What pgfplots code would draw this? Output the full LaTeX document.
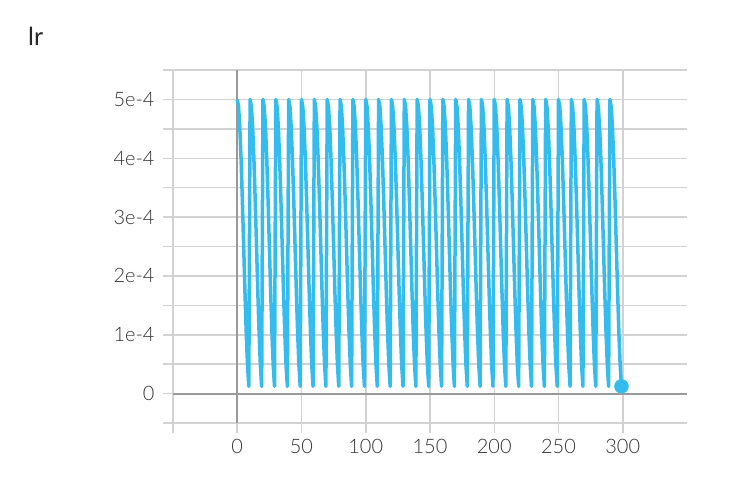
\documentclass[border=0pt]{standalone}
\usepackage{pgfplots}
\pgfplotsset{compat=1.18}
\usepackage{fontspec}
\setmainfont{Lato Light}
\newfontfamily\titlefont{Lato}
\definecolor{lrblue}{HTML}{35BCEE}
\definecolor{gridc}{HTML}{D2D2D2}
\definecolor{zeroc}{HTML}{9A9A9A}
\definecolor{labc}{HTML}{333333}
\begin{document}
\begin{tikzpicture}
\path[use as bounding box] (-173bp,-55bp) rectangle (569bp,423bp);
\node[anchor=base west,inner sep=0pt,font=\titlefont\fontsize{25}{28}\selectfont,text=black!85] at (-145bp,377bp) {lr};
\begin{axis}[
  at={(0,0)}, anchor=south west, scale only axis,
  width=514bp, height=353bp,
  xmin=-50, xmax=350, ymin=-0.5e-4, ymax=5.5e-4,
  axis line style={draw=none},
  scaled y ticks=false, scaled x ticks=false,
  xtick={-50,0,50,100,150,200,250,300},
  xticklabels={{},0,50,100,150,200,250,300},
  ytick={-0.5e-4,0,0.5e-4,1e-4,1.5e-4,2e-4,2.5e-4,3e-4,3.5e-4,4e-4,4.5e-4,5e-4,5.5e-4},
  yticklabels={{},0,{},1e-4,{},2e-4,{},3e-4,{},4e-4,{},5e-4,{}},
  grid=major,
  major grid style={gridc, line width=1.5bp},
  tick style={gridc, line width=1.5bp},
  major tick length=10bp, tick align=outside, tick pos=left,
  ticklabel style={font=\fontsize{20}{22}\selectfont, text=labc},
  xticklabel style={yshift=-3bp},
  yticklabel style={xshift=-5bp},
]
\draw[gridc, line width=2.5bp] (axis cs:-50,-0.5e-4) -- (axis cs:-50,5.5e-4);
\draw[zeroc, line width=2bp] (axis cs:0,-0.5e-4) -- (axis cs:0,5.5e-4);
\draw[zeroc, line width=2bp] (axis cs:-50,0) -- (axis cs:350,0);
\addplot[lrblue, line width=3.5bp, line join=round, mark=none] coordinates {
(0,5e-4)(1,4.8776e-4)(2,4.5225e-4)(3,3.9695e-4)(4,3.2725e-4)(5,2.5e-4)(6,1.7275e-4)(7,1.0305e-4)(8,4.775e-5)(9,1.224e-5)
(10,5e-4)(11,4.8776e-4)(12,4.5225e-4)(13,3.9695e-4)(14,3.2725e-4)(15,2.5e-4)(16,1.7275e-4)(17,1.0305e-4)(18,4.775e-5)(19,1.224e-5)
(20,5e-4)(21,4.8776e-4)(22,4.5225e-4)(23,3.9695e-4)(24,3.2725e-4)(25,2.5e-4)(26,1.7275e-4)(27,1.0305e-4)(28,4.775e-5)(29,1.224e-5)
(30,5e-4)(31,4.8776e-4)(32,4.5225e-4)(33,3.9695e-4)(34,3.2725e-4)(35,2.5e-4)(36,1.7275e-4)(37,1.0305e-4)(38,4.775e-5)(39,1.224e-5)
(40,5e-4)(41,4.8776e-4)(42,4.5225e-4)(43,3.9695e-4)(44,3.2725e-4)(45,2.5e-4)(46,1.7275e-4)(47,1.0305e-4)(48,4.775e-5)(49,1.224e-5)
(50,5e-4)(51,4.8776e-4)(52,4.5225e-4)(53,3.9695e-4)(54,3.2725e-4)(55,2.5e-4)(56,1.7275e-4)(57,1.0305e-4)(58,4.775e-5)(59,1.224e-5)
(60,5e-4)(61,4.8776e-4)(62,4.5225e-4)(63,3.9695e-4)(64,3.2725e-4)(65,2.5e-4)(66,1.7275e-4)(67,1.0305e-4)(68,4.775e-5)(69,1.224e-5)
(70,5e-4)(71,4.8776e-4)(72,4.5225e-4)(73,3.9695e-4)(74,3.2725e-4)(75,2.5e-4)(76,1.7275e-4)(77,1.0305e-4)(78,4.775e-5)(79,1.224e-5)
(80,5e-4)(81,4.8776e-4)(82,4.5225e-4)(83,3.9695e-4)(84,3.2725e-4)(85,2.5e-4)(86,1.7275e-4)(87,1.0305e-4)(88,4.775e-5)(89,1.224e-5)
(90,5e-4)(91,4.8776e-4)(92,4.5225e-4)(93,3.9695e-4)(94,3.2725e-4)(95,2.5e-4)(96,1.7275e-4)(97,1.0305e-4)(98,4.775e-5)(99,1.224e-5)
(100,5e-4)(101,4.8776e-4)(102,4.5225e-4)(103,3.9695e-4)(104,3.2725e-4)(105,2.5e-4)(106,1.7275e-4)(107,1.0305e-4)(108,4.775e-5)(109,1.224e-5)
(110,5e-4)(111,4.8776e-4)(112,4.5225e-4)(113,3.9695e-4)(114,3.2725e-4)(115,2.5e-4)(116,1.7275e-4)(117,1.0305e-4)(118,4.775e-5)(119,1.224e-5)
(120,5e-4)(121,4.8776e-4)(122,4.5225e-4)(123,3.9695e-4)(124,3.2725e-4)(125,2.5e-4)(126,1.7275e-4)(127,1.0305e-4)(128,4.775e-5)(129,1.224e-5)
(130,5e-4)(131,4.8776e-4)(132,4.5225e-4)(133,3.9695e-4)(134,3.2725e-4)(135,2.5e-4)(136,1.7275e-4)(137,1.0305e-4)(138,4.775e-5)(139,1.224e-5)
(140,5e-4)(141,4.8776e-4)(142,4.5225e-4)(143,3.9695e-4)(144,3.2725e-4)(145,2.5e-4)(146,1.7275e-4)(147,1.0305e-4)(148,4.775e-5)(149,1.224e-5)
(150,5e-4)(151,4.8776e-4)(152,4.5225e-4)(153,3.9695e-4)(154,3.2725e-4)(155,2.5e-4)(156,1.7275e-4)(157,1.0305e-4)(158,4.775e-5)(159,1.224e-5)
(160,5e-4)(161,4.8776e-4)(162,4.5225e-4)(163,3.9695e-4)(164,3.2725e-4)(165,2.5e-4)(166,1.7275e-4)(167,1.0305e-4)(168,4.775e-5)(169,1.224e-5)
(170,5e-4)(171,4.8776e-4)(172,4.5225e-4)(173,3.9695e-4)(174,3.2725e-4)(175,2.5e-4)(176,1.7275e-4)(177,1.0305e-4)(178,4.775e-5)(179,1.224e-5)
(180,5e-4)(181,4.8776e-4)(182,4.5225e-4)(183,3.9695e-4)(184,3.2725e-4)(185,2.5e-4)(186,1.7275e-4)(187,1.0305e-4)(188,4.775e-5)(189,1.224e-5)
(190,5e-4)(191,4.8776e-4)(192,4.5225e-4)(193,3.9695e-4)(194,3.2725e-4)(195,2.5e-4)(196,1.7275e-4)(197,1.0305e-4)(198,4.775e-5)(199,1.224e-5)
(200,5e-4)(201,4.8776e-4)(202,4.5225e-4)(203,3.9695e-4)(204,3.2725e-4)(205,2.5e-4)(206,1.7275e-4)(207,1.0305e-4)(208,4.775e-5)(209,1.224e-5)
(210,5e-4)(211,4.8776e-4)(212,4.5225e-4)(213,3.9695e-4)(214,3.2725e-4)(215,2.5e-4)(216,1.7275e-4)(217,1.0305e-4)(218,4.775e-5)(219,1.224e-5)
(220,5e-4)(221,4.8776e-4)(222,4.5225e-4)(223,3.9695e-4)(224,3.2725e-4)(225,2.5e-4)(226,1.7275e-4)(227,1.0305e-4)(228,4.775e-5)(229,1.224e-5)
(230,5e-4)(231,4.8776e-4)(232,4.5225e-4)(233,3.9695e-4)(234,3.2725e-4)(235,2.5e-4)(236,1.7275e-4)(237,1.0305e-4)(238,4.775e-5)(239,1.224e-5)
(240,5e-4)(241,4.8776e-4)(242,4.5225e-4)(243,3.9695e-4)(244,3.2725e-4)(245,2.5e-4)(246,1.7275e-4)(247,1.0305e-4)(248,4.775e-5)(249,1.224e-5)
(250,5e-4)(251,4.8776e-4)(252,4.5225e-4)(253,3.9695e-4)(254,3.2725e-4)(255,2.5e-4)(256,1.7275e-4)(257,1.0305e-4)(258,4.775e-5)(259,1.224e-5)
(260,5e-4)(261,4.8776e-4)(262,4.5225e-4)(263,3.9695e-4)(264,3.2725e-4)(265,2.5e-4)(266,1.7275e-4)(267,1.0305e-4)(268,4.775e-5)(269,1.224e-5)
(270,5e-4)(271,4.8776e-4)(272,4.5225e-4)(273,3.9695e-4)(274,3.2725e-4)(275,2.5e-4)(276,1.7275e-4)(277,1.0305e-4)(278,4.775e-5)(279,1.224e-5)
(280,5e-4)(281,4.8776e-4)(282,4.5225e-4)(283,3.9695e-4)(284,3.2725e-4)(285,2.5e-4)(286,1.7275e-4)(287,1.0305e-4)(288,4.775e-5)(289,1.224e-5)
(290,5e-4)(291,4.8776e-4)(292,4.5225e-4)(293,3.9695e-4)(294,3.2725e-4)(295,2.5e-4)(296,1.7275e-4)(297,1.0305e-4)(298,4.775e-5)(299,1.224e-5)
};
\addplot[only marks, mark=*, mark size=7bp, lrblue, mark options={draw=lrblue, fill=lrblue}] coordinates {(299,1.224e-5)};
\end{axis}
\end{tikzpicture}
\end{document}
